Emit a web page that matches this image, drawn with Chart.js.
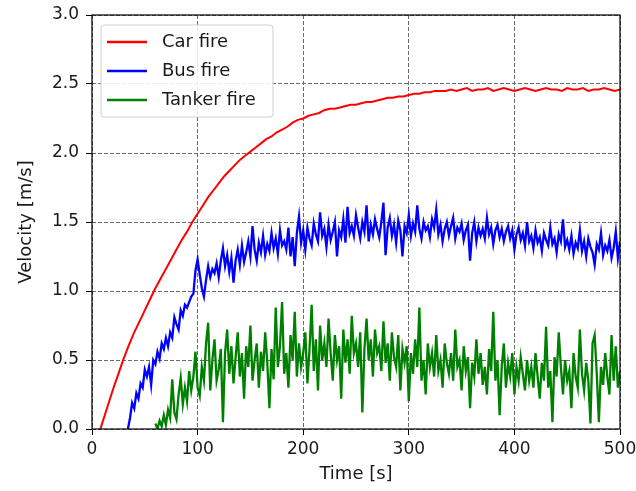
<!DOCTYPE html>
<html><head><meta charset="utf-8">
<script src="https://cdn.jsdelivr.net/npm/chart.js@4/dist/chart.umd.min.js"></script>
<style>html,body{margin:0;padding:0;background:#fff}#wrap{width:636px;height:491px}</style>
</head><body><div id="wrap"><canvas id="c" width="636" height="491"></canvas></div>
<script>
const seriesNames = ['Car fire', 'Bus fire', 'Tanker fire'];
const seriesColors = ['#ff0000', '#0000ff', '#008000'];
const xTicks = [0, 100, 200, 300, 400, 500];
const yTicks = [0, 0.5, 1.0, 1.5, 2.0, 2.5, 3.0];
const xLabel = 'Time [s]';
const yLabel = 'Velocity [m/s]';

// Car fire: samples every 5 s from t = 5 s
const carStart = 5, carStep = 5;
const carVel = [
 -0.07,0.05,0.17,0.29,0.40,0.51,0.61,0.70,0.78,0.86,
 0.94,1.02,1.09,1.16,1.23,1.30,1.37,1.43,1.50,1.56,
 1.62,1.68,1.73,1.78,1.83,1.87,1.91,1.95,1.98,2.01,
 2.04,2.07,2.10,2.12,2.15,2.17,2.19,2.22,2.24,2.25,
 2.27,2.28,2.29,2.31,2.32,2.32,2.33,2.34,2.35,2.35,
 2.36,2.37,2.37,2.38,2.39,2.40,2.40,2.41,2.41,2.42,
 2.43,2.43,2.44,2.44,2.45,2.45,2.45,2.46,2.45,2.46,
 2.47,2.45,2.46,2.46,2.47,2.45,2.46,2.47,2.46,2.45,
 2.46,2.47,2.46,2.45,2.46,2.47,2.46,2.46,2.45,2.47,
 2.46,2.46,2.47,2.45,2.46,2.46,2.47,2.46,2.45,2.46
];

// Bus fire: samples every 2 s from t = 34 s
const busStart = 34, busStep = 2;
const busVel = [
 0.00,0.08,0.19,0.15,0.26,0.22,0.33,0.30,0.43,0.38,
 0.45,0.32,0.50,0.47,0.56,0.51,0.62,0.58,0.66,0.60,
 0.70,0.66,0.81,0.76,0.72,0.86,0.82,0.90,0.88,0.92,
 0.96,0.98,1.15,1.23,1.12,1.02,0.96,1.08,1.18,1.10,
 1.16,1.13,1.20,1.10,1.22,1.31,1.18,1.26,1.14,1.24,
 1.06,1.22,1.30,1.19,1.33,1.21,1.28,1.36,1.25,1.47,
 1.30,1.22,1.35,1.28,1.40,1.26,1.34,1.29,1.42,1.31,
 1.38,1.27,1.44,1.33,1.36,1.30,1.46,1.25,1.39,1.18,
 1.42,1.54,1.35,1.44,1.30,1.46,1.38,1.33,1.49,1.41,
 1.36,1.57,1.40,1.45,1.32,1.48,1.37,1.43,1.50,1.25,
 1.44,1.39,1.52,1.35,1.61,1.42,1.47,1.40,1.55,1.46,
 1.38,1.50,1.43,1.62,1.36,1.48,1.41,1.52,1.45,1.39,
 1.50,1.64,1.26,1.46,1.53,1.40,1.48,1.35,1.51,1.44,
 1.25,1.47,1.42,1.55,1.40,1.49,1.43,1.62,1.45,1.38,
 1.50,1.44,1.47,1.39,1.52,1.46,1.59,1.41,1.48,1.36,
 1.45,1.50,1.40,1.47,1.53,1.38,1.46,1.43,1.49,1.37,
 1.44,1.48,1.22,1.42,1.50,1.36,1.46,1.40,1.45,1.38,
 1.53,1.41,1.46,1.34,1.44,1.48,1.39,1.45,1.36,1.43,
 1.47,1.38,1.44,1.30,1.41,1.46,1.37,1.42,1.33,1.50,
 1.36,1.40,1.31,1.44,1.35,1.39,1.29,1.42,1.37,1.33,
 1.46,1.34,1.38,1.28,1.41,1.36,1.52,1.32,1.37,1.30,
 1.40,1.27,1.35,1.31,1.44,1.29,1.36,1.25,1.38,1.32,
 1.28,1.19,1.34,1.30,1.42,1.26,1.33,1.29,1.37,1.24,
 1.31,1.43,1.24,1.36
];

// Tanker fire: samples every 2 s from t = 60 s
const tankerStart = 60, tankerStep = 2;
const tankerVel = [
 0.04,0.00,0.06,0.02,0.10,0.03,0.14,0.08,0.36,0.12,
 0.07,0.25,0.37,0.18,0.30,0.20,0.42,0.28,0.38,0.56,
 0.30,0.24,0.45,0.35,0.62,0.77,0.28,0.50,0.65,0.35,
 0.43,0.58,0.05,0.55,0.72,0.40,0.60,0.33,0.52,0.70,
 0.38,0.55,0.22,0.60,0.45,0.75,0.35,0.50,0.62,0.30,
 0.56,0.42,0.70,0.48,0.15,0.58,0.36,0.88,0.45,0.60,
 0.92,0.40,0.55,0.30,0.68,0.50,0.85,0.38,0.62,0.45,
 0.55,0.70,0.33,0.58,0.90,0.42,0.65,0.28,0.75,0.50,
 0.62,0.45,0.80,0.55,0.35,0.68,0.50,0.60,0.22,0.72,
 0.48,0.65,0.40,0.82,0.55,0.62,0.45,0.70,0.12,0.58,
 0.80,0.50,0.65,0.38,0.72,0.55,0.60,0.42,0.78,0.48,
 0.62,0.35,0.70,0.52,0.45,0.68,0.28,0.58,0.48,0.60,
 0.20,0.55,0.40,0.65,0.45,0.88,0.35,0.50,0.25,0.62,
 0.45,0.55,0.38,0.68,0.42,0.50,0.30,0.62,0.48,0.40,
 0.55,0.35,0.72,0.45,0.50,0.28,0.60,0.42,0.52,0.15,
 0.48,0.38,0.65,0.40,0.55,0.32,0.45,0.25,0.58,0.42,
 0.85,0.35,0.50,0.10,0.45,0.62,0.30,0.48,0.38,0.55,
 0.25,0.45,0.35,0.52,0.40,0.28,0.50,0.35,0.45,0.30,
 0.55,0.38,0.22,0.48,0.35,0.74,0.30,0.42,0.05,0.52,
 0.38,0.70,0.45,0.25,0.50,0.35,0.42,0.15,0.55,0.38,
 0.30,0.72,0.40,0.28,0.48,0.35,0.04,0.62,0.68,0.40,
 0.05,0.45,0.32,0.55,0.38,0.25,0.68,0.35,0.60,0.30,
 0.42
];

function toPoints(start, step, vals) {
  return vals.map((v, i) => ({ x: start + i * step, y: v }));
}

const FONT = 'DejaVu Sans';

const framePlugin = {
  id: 'frame',
  afterDatasetsDraw(chart) {
    const a = chart.chartArea, ctx = chart.ctx;
    ctx.save();
    ctx.strokeStyle = '#000';
    ctx.lineWidth = 1.2;
    ctx.strokeRect(a.left, a.top, a.right - a.left, a.bottom - a.top);
    ctx.restore();
  }
};

const legendPlugin = {
  id: 'innerLegend',
  afterDraw(chart) {
    const a = chart.chartArea, ctx = chart.ctx;
    const x = a.left + 9, y = a.top + 10, w = 172, h = 92, r = 3;
    ctx.save();
    ctx.beginPath();
    ctx.moveTo(x + r, y);
    ctx.lineTo(x + w - r, y); ctx.quadraticCurveTo(x + w, y, x + w, y + r);
    ctx.lineTo(x + w, y + h - r); ctx.quadraticCurveTo(x + w, y + h, x + w - r, y + h);
    ctx.lineTo(x + r, y + h); ctx.quadraticCurveTo(x, y + h, x, y + h - r);
    ctx.lineTo(x, y + r); ctx.quadraticCurveTo(x, y, x + r, y);
    ctx.closePath();
    ctx.fillStyle = 'rgba(255,255,255,0.85)';
    ctx.fill();
    ctx.strokeStyle = '#d0d0d0';
    ctx.lineWidth = 1;
    ctx.stroke();
    ctx.font = '18px "' + FONT + '"';
    ctx.textBaseline = 'middle';
    ctx.textAlign = 'left';
    chart.data.datasets.forEach((ds, i) => {
      const cy = y + 17 + i * 29;
      ctx.strokeStyle = ds.borderColor;
      ctx.lineWidth = 2.5;
      ctx.beginPath();
      ctx.moveTo(x + 6, cy);
      ctx.lineTo(x + 46, cy);
      ctx.stroke();
      ctx.fillStyle = '#1a1a1a';
      ctx.fillText(ds.label, x + 61, cy);
    });
    ctx.restore();
  }
};

const gridCommon = {
  color: '#6a6a6a',
  lineWidth: 1,
  drawTicks: true,
  tickLength: 6,
  tickColor: '#000',
  tickWidth: 1,
  tickBorderDash: []
};

new Chart(document.getElementById('c'), {
  type: 'line',
  data: {
    datasets: [
      { label: seriesNames[0], data: toPoints(carStart, carStep, carVel), borderColor: seriesColors[0], borderWidth: 2 },
      { label: seriesNames[1], data: toPoints(busStart, busStep, busVel), borderColor: seriesColors[1], borderWidth: 2.3 },
      { label: seriesNames[2], data: toPoints(tankerStart, tankerStep, tankerVel), borderColor: seriesColors[2], borderWidth: 2.3 }
    ].map(d => Object.assign(d, { pointRadius: 0, tension: 0, fill: false, backgroundColor: d.borderColor }))
  },
  options: {
    responsive: false,
    animation: false,
    devicePixelRatio: 1,
    layout: { padding: { top: 15, right: 16, left: 0, bottom: 0 } },
    plugins: { legend: { display: false }, tooltip: { enabled: false } },
    scales: {
      x: {
        type: 'linear', min: 0, max: 500,
        afterBuildTicks: s => { s.ticks = xTicks.map(v => ({ value: v })); },
        afterFit: s => { s.height = 62; s.paddingLeft = 0; s.paddingRight = 0; },
        grid: gridCommon,
        border: { display: false, dash: [4, 2] },
        ticks: { color: '#1a1a1a', font: { family: FONT, size: 17 }, padding: 4, maxRotation: 0, callback: v => String(v) },
        title: { display: true, text: xLabel, color: '#1a1a1a', font: { family: FONT, size: 18 }, padding: { top: 0, bottom: 6 } }
      },
      y: {
        type: 'linear', min: 0, max: 3,
        afterBuildTicks: s => { s.ticks = yTicks.map(v => ({ value: v })); },
        afterFit: s => { s.width = 92; s.paddingTop = 0; s.paddingBottom = 0; },
        grid: gridCommon,
        border: { display: false, dash: [4, 2] },
        ticks: { color: '#1a1a1a', font: { family: FONT, size: 17 }, padding: 7, callback: v => Number(v).toFixed(1) },
        title: { display: true, text: yLabel, color: '#1a1a1a', font: { family: FONT, size: 18 }, padding: { top: 16, bottom: 0 } }
      }
    }
  },
  plugins: [framePlugin, legendPlugin]
});
</script>
</body></html>
